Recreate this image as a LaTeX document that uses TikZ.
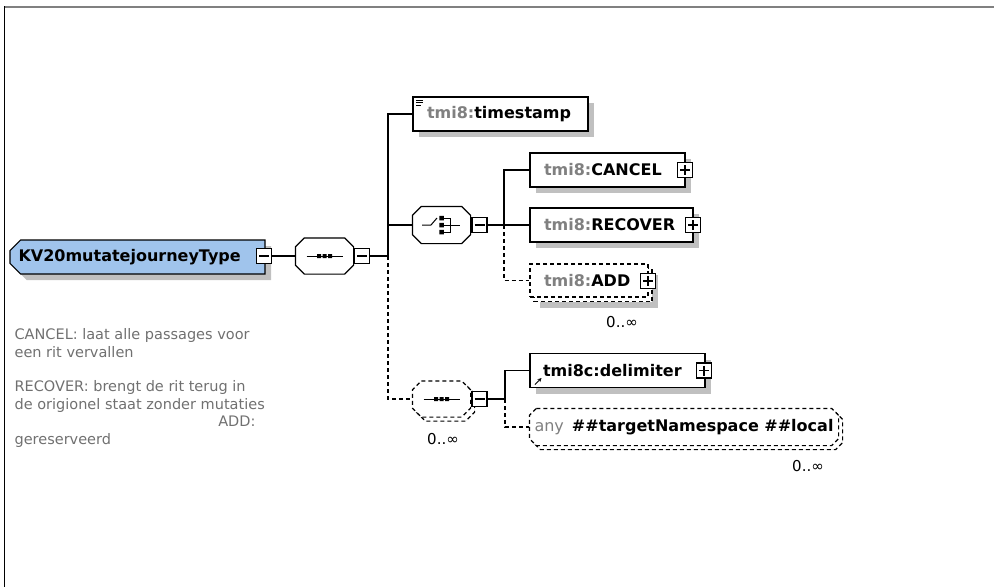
\documentclass[tikz,border=0pt]{standalone}
\usepackage{fontspec}
\setmainfont{DejaVu Sans}
\usetikzlibrary{shapes.misc,shadows,arrows.meta,calc}
\definecolor{rootblue}{RGB}{160,196,236}
\definecolor{shgray}{RGB}{192,192,192}
\definecolor{tgray}{RGB}{128,128,128}
\definecolor{agray}{RGB}{112,112,112}
% octagon outline around a named (invisible) node: #1 name, #2 chamfer, #3 path options
\newcommand\octpath[3]{%
  \path[#3] ($(#1.north west)+(#2,0)$) -- ($(#1.north east)+(-#2,0)$) -- ($(#1.north east)+(0,#2)$)
    -- ($(#1.south east)+(0,-#2)$) -- ($(#1.south east)+(-#2,0)$) -- ($(#1.south west)+(#2,0)$)
    -- ($(#1.south west)+(0,-#2)$) -- ($(#1.north west)+(0,#2)$) -- cycle;}
\begin{document}
\begin{tikzpicture}[x=1pt,y=-1pt,line width=1.2pt,
  dsh/.style={dash pattern=on 4pt off 3pt},
  shad/.style={drop shadow={shadow xshift=6pt,shadow yshift=-6pt,fill=shgray,opacity=1}},
  ename/.style={font=\fontsize{16}{19}\selectfont\bfseries},
  elem/.style={draw,fill=white,rectangle,minimum height=34pt,inner ysep=0pt,inner xsep=14pt,align=left,ename},
  comp/.style={rectangle,draw=none,minimum width=57pt,minimum height=35pt,inner sep=0pt},
  pm/.style={draw,fill=white,rectangle,minimum size=15pt,inner sep=0pt,line width=1.1pt},
  minus/.style={pm,path picture={\draw[line width=1.1pt] ($(path picture bounding box.west)+(2.5pt,0pt)$) -- ($(path picture bounding box.east)+(-2.5pt,0pt)$);}},
  plus/.style={pm,path picture={\draw[line width=1.1pt] ($(path picture bounding box.west)+(2.5pt,0pt)$) -- ($(path picture bounding box.east)+(-2.5pt,0pt)$) ($(path picture bounding box.north)+(0pt,-2.5pt)$) -- ($(path picture bounding box.south)+(0pt,2.5pt)$);}},
  occ/.style={font=\fontsize{15}{18}\selectfont,inner sep=0pt},
  ann/.style={font=\fontsize{14.5}{17}\selectfont,text=agray,inner sep=0pt},
  icon/.style={line width=1pt},
  shfill/.style={fill=shgray,shift={(6,6)}},
  octfill/.style={draw,fill=white}]
\useasboundingbox (0,0) rectangle (994,587);
% frame
\draw[tgray,line width=2pt] (4,6.5) -- (994,6.5);
\draw[black,line width=1.5pt] (4.5,6) -- (4.5,587);

% root
\node[draw,fill=rootblue,chamfered rectangle,chamfered rectangle corners={north west,south west},chamfered rectangle xsep=7pt,minimum width=255pt,minimum height=34pt,inner xsep=0pt,inner ysep=0pt,ename,shad] (root) at (137.5,257) {\makebox[238pt][l]{KV20mutatejourneyType}};
\node[minus] (rootm) at (264,256) {};

% sequence 1
\node[comp] (seq1) at (324.5,256) {};
\octpath{seq1}{9}{shfill}
\octpath{seq1}{9}{octfill}
\node[minus] (seq1m) at (362,256) {};
\begin{scope}[shift={(seq1.center)},icon]
  \draw (-18,0) -- (18,0);
  \fill (-7.5,-2) rectangle (-3.5,2) (-2,-2) rectangle (2,2) (3.5,-2) rectangle (7.5,2);
\end{scope}

% timestamp
\node[elem,text width=147pt,shad] (ts) at (500.5,114) {{\color{tgray}tmi8:}timestamp};
\draw[icon,line width=0.8pt] (416,100) -- (423,100) (416,102.5) -- (423,102.5) (416,105) -- (421,105);

% choice
\node[comp,minimum height=36pt] (ch) at (441.5,225) {};
\octpath{ch}{9}{shfill}
\octpath{ch}{9}{octfill}
\node[minus] (chm) at (479.5,225) {};
\begin{scope}[shift={(ch.center)},icon]
  \draw (-19.5,0) -- (-10.5,0) -- (-4.5,-7);
  \fill (-2.25,-9.25) rectangle (2.25,-4.75) (-2.25,-2.25) rectangle (2.25,2.25) (-2.25,4.75) rectangle (2.25,9.25);
  \draw (2.25,-7) -- (8.5,-7) -- (8.5,7) -- (2.25,7);
  \draw (2.25,0) -- (18.5,0);
\end{scope}

% choice children
\node[elem,text width=127pt,shad] (cancel) at (607.5,170) {{\color{tgray}tmi8:}CANCEL};
\node[plus] (cancelp) at (685,170) {};
\node[elem,text width=135pt,shad] (recover) at (611.5,225) {{\color{tgray}tmi8:}RECOVER};
\node[plus] (recoverp) at (693,225) {};
\node[elem,dsh,text width=90pt,minimum height=33pt,shad] (addb) at (593,285) {};
\node[elem,dsh,text width=90pt,minimum height=33pt] (add) at (589,280.5) {{\color{tgray}tmi8:}ADD};
\node[plus] (addp) at (648,281) {};
\node[occ] (addocc) at (622,322) {0..∞};

% sequence 2
\node[comp] (seq2b) at (445.5,403) {};
\node[comp] (seq2) at (441.5,399) {};
\octpath{seq2b}{9}{shfill}
\octpath{seq2b}{9}{octfill,dsh}
\octpath{seq2}{9}{octfill,dsh}
\node[minus] (seq2m) at (479.5,399) {};
\begin{scope}[shift={(seq2.center)},icon]
  \draw (-18,0) -- (18,0);
  \fill (-7.5,-2) rectangle (-3.5,2) (-2,-2) rectangle (2,2) (3.5,-2) rectangle (7.5,2);
\end{scope}
\node[occ] (seq2occ) at (443,439) {0..∞};

% sequence 2 children
\node[elem,text width=149pt,inner xsep=13pt,shad] (delim) at (617.5,370.5) {tmi8c:delimiter};
\node[plus] (delimp) at (704,370.5) {};
\draw[line width=1pt,-{Stealth[length=4pt,width=4pt]}] (535,384.5) -- (541.5,378);
\node[comp,minimum width=308pt,minimum height=36pt] (anyb) at (688,431) {};
\octpath{anyb}{7}{shfill}
\octpath{anyb}{7}{octfill,dsh}
\node[comp,minimum width=308pt,minimum height=36pt,ename] (any) at (684,427) {};
\octpath{any}{7}{octfill,dsh}
\node[ename,inner sep=0pt] (anytext) at (any.center) {\mbox{{\mdseries\color{tgray}any}\hspace{8pt}\#\#targetNamespace \#\#local}};
\node[occ] (anyocc) at (808,466) {0..∞};

% connectors
\coordinate (tr1) at (388,256);
\coordinate (tr2) at (504,225);
\coordinate (tr3) at (505,399);
\draw (rootm.east) -- (seq1.west);
\draw (seq1m.east) -- (tr1);
\draw (ts.west) -| (tr1);
\draw[dsh] (tr1) |- (seq2.west);
\draw (tr1 |- ch.west) -- (ch.west);
\draw (chm.east) -- (tr2);
\draw (cancel.west) -| (tr2) -- (recover.west);
\draw[dsh] (tr2) |- (add.west);
\draw (seq2m.east) -- (tr3);
\draw (delim.west) -| (tr3);
\draw[dsh] (tr3) |- (any.west);

% annotation
\node[ann,anchor=base west] (ann1) at (14,339) {CANCEL: laat alle passages voor};
\node[ann,anchor=base west] (ann2) at (14,357) {een rit vervallen};
\node[ann,anchor=base west] (ann3) at (14,391) {RECOVER: brengt de rit terug in};
\node[ann,anchor=base west] (ann4) at (14,409) {de origionel staat zonder mutaties};
\node[ann,anchor=base east] (ann5) at (256,426) {ADD:};
\node[ann,anchor=base west] (ann6) at (14,444) {gereserveerd};
\end{tikzpicture}
\end{document}
